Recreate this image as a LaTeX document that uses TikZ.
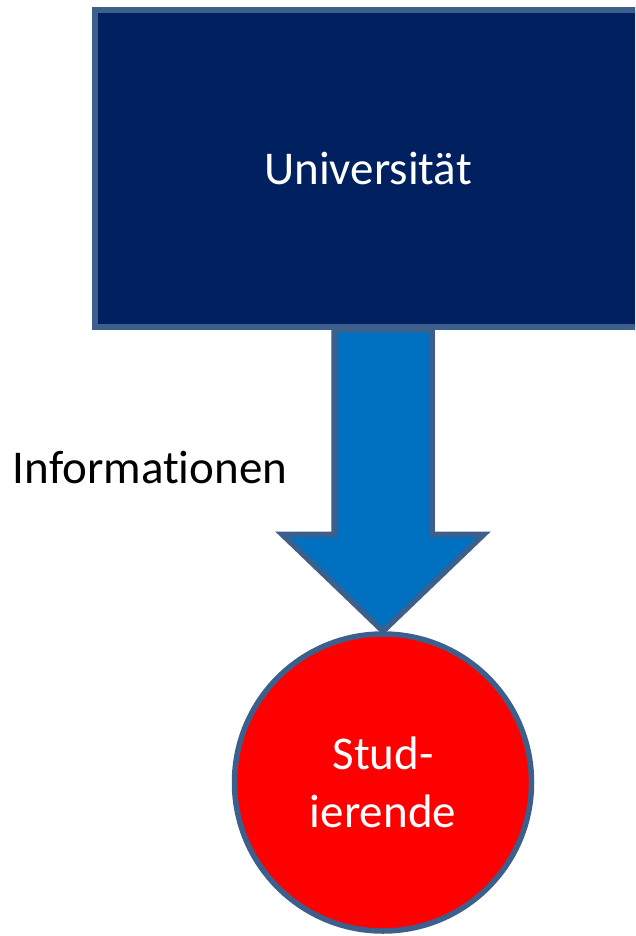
\documentclass[tikz,border=0pt]{standalone}
\usepackage{fontspec}
\setmainfont{Carlito}[Ligatures=NoCommon]
\usetikzlibrary{calc}
\definecolor{navy}{HTML}{002060}
\definecolor{edgeblue}{HTML}{3C5F8C}
\definecolor{arrowblue}{HTML}{0070C0}
\definecolor{redfill}{HTML}{FF0000}
\tikzset{
  box/.style={draw=edgeblue, line width=5.5pt, fill=navy, rectangle, minimum width=620pt, minimum height=317pt, inner sep=0pt},
  person/.style={draw=edgeblue, line width=5.5pt, fill=redfill, circle, minimum size=297pt, inner sep=0pt, text=white, align=center},
  fatarrow/.style={draw=edgeblue, line width=5.5pt, fill=arrowblue, line join=miter},
  lbl/.style={font=\fontsize{47}{58}\selectfont}
}
\begin{document}
\begin{tikzpicture}[x=1pt,y=-1pt]
\useasboundingbox (0,0) rectangle (635,936);
\clip (0,0) rectangle (635,936);
\node[box, label={[lbl, text=white, xshift=-37pt]center:Universität}] (uni) at (405,168.5) {};
\node[person, lbl] (stud) at (383,782.5) {Stud-\\ierende};
\coordinate (tip) at (stud.north);
\draw[fatarrow] (tip) -- ++(-101,-97) -- ++(52,0)
  -- ($(tip |- uni.south)+(-49,0)$) -- ($(tip |- uni.south)+(49,0)$)
  -- ($(tip)+(49,-97)$) -- ++(52,0) -- cycle;
\node[lbl, anchor=base] (info) at (150,483) {Informationen};
\end{tikzpicture}
\end{document}
